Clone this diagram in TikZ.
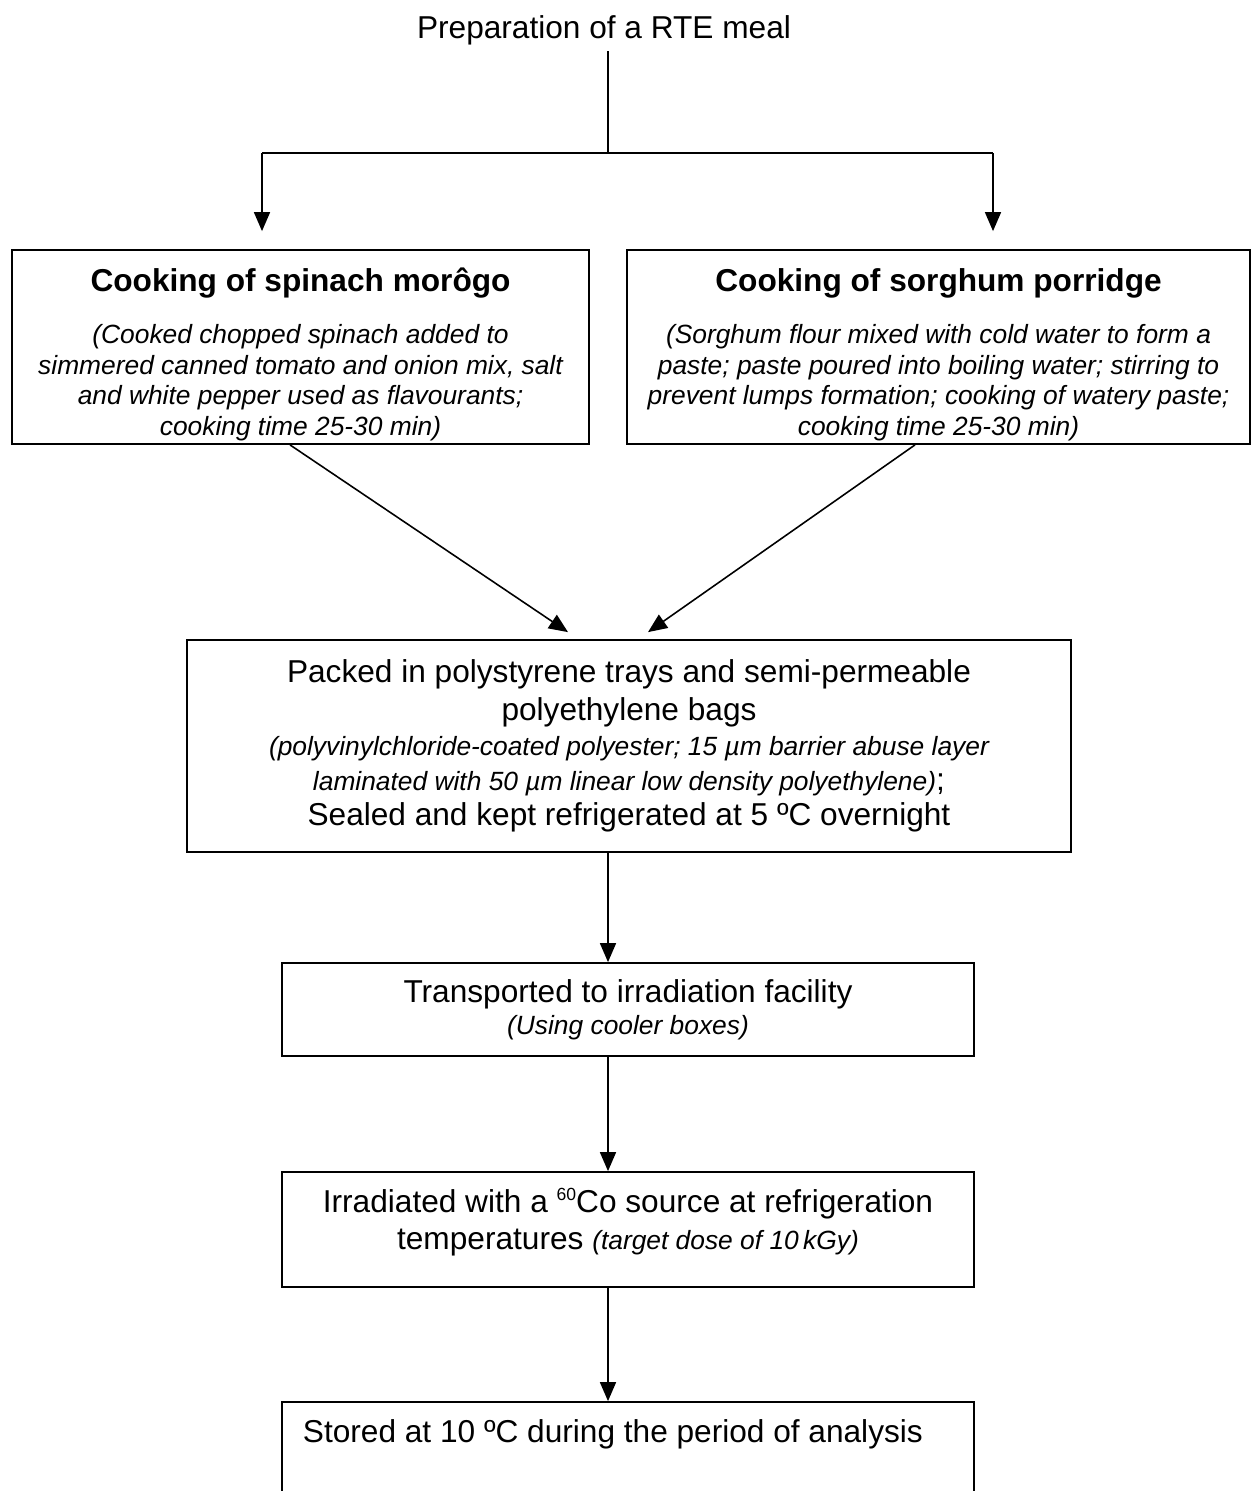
\documentclass[tikz,border=0pt]{standalone}
\usepackage{fontspec}
\setmainfont{Liberation Sans}
\usetikzlibrary{calc}
\usetikzlibrary{positioning}
\usetikzlibrary{arrows.meta}

\newcommand{\notefont}{\fontsize{15}{17.6}\selectfont\itshape}
\newcommand{\mainfont}{\fontsize{18}{20}\selectfont}

\begin{document}
\begin{tikzpicture}[
	box/.style={draw, rectangle, line width=1pt, align=center, inner sep=0pt},
	>={Triangle[length=0.38cm, width=0.32cm]},
	line width=0.9pt]

	\useasboundingbox (0,0) rectangle (25.04,-29.82);

	\def\x{12.08}
	\def\y{-0.6}
	\node [font=\mainfont] at (\x,\y) (prep){Preparation of a RTE meal};

	% split into the two cooking steps
	\def\y{-3.06}
	\coordinate (split) at (12.16,\y);
	\coordinate (split_left) at (5.24,\y);
	\coordinate (split_right) at (19.86,\y);
	\draw (prep.south -| split) -- (split);
	\draw (split_left) -- (split_right);

	% cooking steps
	\def\y{-6.94}
	\node [box, minimum width=11.54cm, minimum height=3.88cm, font=\notefont] at (6.01,\y) (spinach){\rule{0pt}{22pt}{\fontsize{18}{20}\selectfont\upshape\bfseries Cooking of spinach morôgo}\\[11.9pt] (Cooked chopped spinach added to\\ simmered canned tomato and onion mix, salt\\ and white pepper used as flavourants;\\ cooking time 25-30 min)};
	\node [box, minimum width=12.46cm, minimum height=3.88cm, font=\notefont] at (18.77,\y) (sorghum){\rule{0pt}{22pt}{\fontsize{18}{20}\selectfont\upshape\bfseries Cooking of sorghum porridge}\\[11.9pt] (Sorghum flour mixed with cold water to form a\\ paste; paste poured into boiling water; stirring to\\ prevent lumps formation; cooking of watery paste;\\ cooking time 25-30 min)};
	\draw [->, shorten >=0.36cm] (split_left) -- (split_left |- spinach.north);
	\draw [->, shorten >=0.36cm] (split_right) -- (split_right |- sorghum.north);

	% packing
	\node [box, minimum width=17.68cm, minimum height=4.24cm, font=\mainfont] at (12.58,-14.92) (pack){Packed in polystyrene trays and semi-permeable\\[1.5pt] polyethylene bags\\ {\notefont (polyvinylchloride-coated polyester; 15 µm barrier abuse layer}\\ {\notefont laminated with 50 µm linear low density polyethylene)};\\ Sealed and kept refrigerated at 5 ºC overnight};
	\draw [->] ([xshift=-0.21cm]spinach.south) -- ([xshift=-1.22cm, yshift=0.14cm]pack.north);
	\draw [->] ([xshift=-0.47cm]sorghum.south) -- ([xshift=0.38cm, yshift=0.14cm]pack.north);

	% transport, irradiation and storage
	\def\x{12.56}
	\node [box, minimum width=13.84cm, minimum height=1.86cm, font=\mainfont] at (\x,-20.19) (transport){Transported to irradiation facility\\[-2pt] {\notefont (Using cooler boxes)}};
	\node [box, minimum width=13.84cm, minimum height=2.3cm, font=\mainfont] at (\x,-24.59) (irradiated){Irradiated with a \raisebox{6.5pt}{\fontsize{10}{10}\selectfont 60}Co source at refrigeration\\[1.5pt] temperatures {\notefont (target dose of 10\,kGy)}\rule[-11.8pt]{0pt}{1pt}};
	\node [box, minimum width=13.84cm, minimum height=2.4cm] at (\x,-29.24) (stored){};
	\node [font=\mainfont, anchor=base west, inner sep=0pt] at ($(stored.north west)+(0.42,-0.82)$) (stored_text){Stored at 10 ºC during the period of analysis};

	\draw [->] (pack.south -| split) -- (transport.north -| split);
	\draw [->] (transport.south -| split) -- (irradiated.north -| split);
	\draw [->] (irradiated.south -| split) -- (stored.north -| split);

\end{tikzpicture}
\end{document}
